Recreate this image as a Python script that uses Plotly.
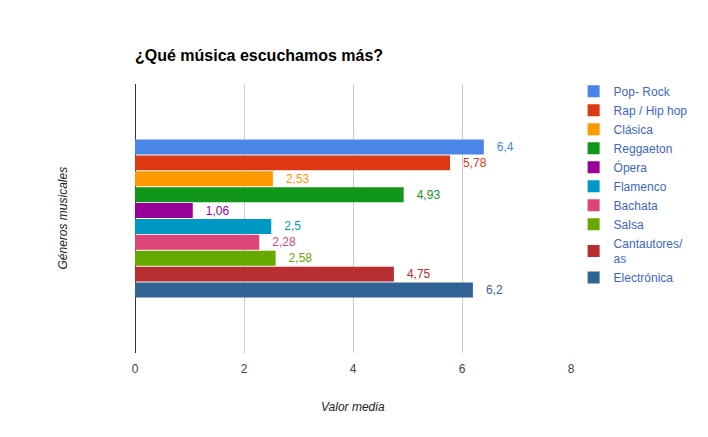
import plotly.graph_objects as go

generos = ["Pop- Rock", "Rap / Hip hop", "Clásica", "Reggaeton", "Ópera",
           "Flamenco", "Bachata", "Salsa", "Cantautores/<br>as", "Electrónica"]
valores = [6.4, 5.78, 2.53, 4.93, 1.06, 2.5, 2.28, 2.58, 4.75, 6.2]
colores = ["#4a86e8", "#dc3912", "#ff9900", "#109618", "#990099",
           "#0099c6", "#dd4477", "#66aa00", "#b82e2e", "#316395"]
x_ticks = [0, 2, 4, 6, 8]

FONT = "Arial, Liberation Sans, sans-serif"

fig = go.Figure()
for g, v, c in zip(generos, valores, colores):
    lbl = ("%g" % v).replace(".", ",")
    fig.add_trace(go.Bar(
        y=[0], x=[v], name=g, orientation="h",
        marker=dict(color=c, line=dict(width=0)),
        text=["\u00a0\u00a0\u00a0" + lbl], textposition="outside",
        textfont=dict(color=c, size=12, family=FONT),
        constraintext="none", cliponaxis=False,
        hoverinfo="x+name",
    ))

fig.update_layout(
    width=708, height=437,
    margin=dict(l=135, r=137, t=84, b=84, autoexpand=False),
    paper_bgcolor="white", plot_bgcolor="white",
    barmode="group", bargap=0.409, bargroupgap=0.06,
    font=dict(family=FONT, size=12, color="#222"),
    title=dict(text="<b>¿Qué música escuchamos más?</b>", x=135/708, xanchor="left",
               y=1 - 55/437, yanchor="middle",
               font=dict(size=16, color="#000", family=FONT)),
    xaxis=dict(range=[0, 8], tickvals=x_ticks, ticktext=[str(t) for t in x_ticks],
               showgrid=True, gridcolor="#cccccc", gridwidth=1,
               zeroline=True, zerolinecolor="#333333", zerolinewidth=1,
               showline=False, ticks="", tickfont=dict(size=12, color="#444"),
               ticklabelstandoff=7, fixedrange=True),
    yaxis=dict(range=[0.5, -0.5], showticklabels=False, showgrid=False,
               zeroline=False, showline=False, ticks=""),
    legend=dict(x=1.006, xanchor="left", y=1.0266, yanchor="top",
                font=dict(size=12, color="#3c66c8", family=FONT),
                tracegroupgap=0, itemwidth=30, bgcolor="rgba(0,0,0,0)"),
    showlegend=True,
    annotations=[
        dict(text="<i>Valor media</i>", xref="paper", yref="paper",
             x=0.5, y=-(407 - 353) / 269, xanchor="center", yanchor="middle",
             showarrow=False, font=dict(size=12, color="#222", family=FONT)),
        dict(text="<i>Géneros musicales</i>", xref="paper", yref="paper",
             x=-(135 - 62) / 436, y=0.5, xanchor="center", yanchor="middle",
             textangle=-90, showarrow=False,
             font=dict(size=12, color="#222", family=FONT)),
    ],
)

fig.write_html("out.html")
